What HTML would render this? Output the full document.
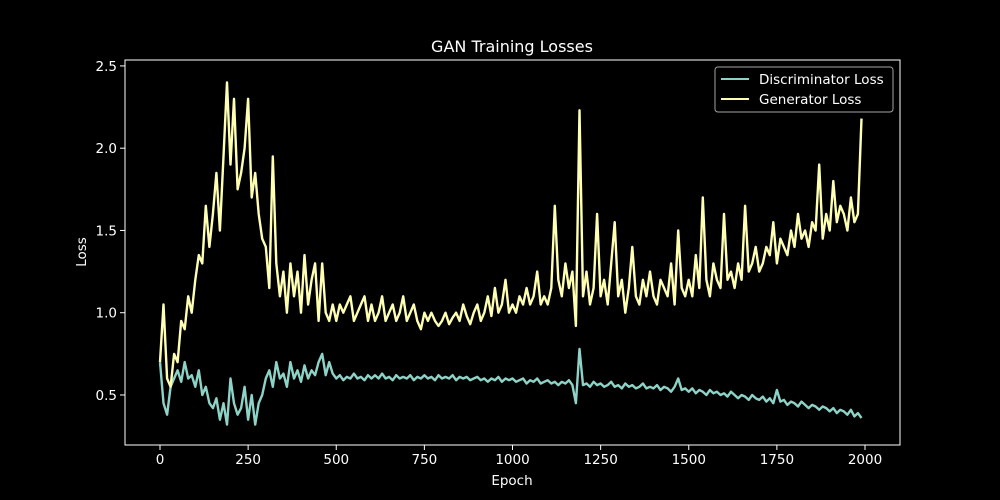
<!DOCTYPE html>
<html><head><meta charset="utf-8"><style>
body{margin:0;background:#000;}
svg{display:block;font-family:"DejaVu Sans","Liberation Sans",sans-serif;}
</style></head><body>
<svg id="chart" width="1000" height="500">
<rect width="1000" height="500" fill="#000"/>
<text x="512" y="52" fill="#fff" font-size="16" text-anchor="middle">GAN Training Losses</text>
<g id="plot"></g>
<text x="512" y="485" fill="#fff" font-size="13.5" text-anchor="middle">Epoch</text>
<text x="86" y="252" fill="#fff" font-size="13.5" text-anchor="middle" transform="rotate(-90 86 252)">Loss</text>
<g>
<rect x="715" y="67" width="178" height="45" rx="3" fill="#000" stroke="#ccc" stroke-opacity="0.8"/>
<line x1="721" y1="79" x2="749" y2="79" stroke="#8dd3c7" stroke-width="2"/>
<text x="759" y="84" fill="#fff" font-size="13.5">Discriminator Loss</text>
<line x1="721" y1="99" x2="749" y2="99" stroke="#feffb3" stroke-width="2"/>
<text x="759" y="104" fill="#fff" font-size="13.5">Generator Loss</text>
</g>
</svg>
<script>
const epochStep = 10;
const genLoss = [
0.7,1.05,0.6,0.55,0.75,0.7,0.95,0.9,1.1,1.0,
1.2,1.35,1.3,1.65,1.4,1.6,1.85,1.5,1.95,2.4,
1.9,2.3,1.75,1.85,2.0,2.3,1.7,1.85,1.6,1.45,
1.4,1.15,1.95,1.3,1.1,1.25,1.0,1.3,1.1,1.25,
1.0,1.35,1.05,1.2,1.3,0.95,1.3,1.0,0.95,1.05,
0.95,1.05,1.0,1.05,1.1,0.95,1.0,1.05,1.1,0.95,
1.05,0.95,1.0,1.1,0.95,1.0,1.05,0.95,1.0,1.1,
0.95,1.0,1.05,0.95,0.9,1.0,0.95,1.0,0.95,0.92,
0.95,1.0,0.93,0.97,1.0,0.95,1.05,0.98,0.93,1.0,
1.05,0.95,1.0,1.1,0.98,1.15,1.0,1.05,1.2,1.0,
1.05,1.0,1.1,1.05,1.15,1.05,1.1,1.25,1.05,1.1,
1.05,1.15,1.65,1.2,1.1,1.3,1.15,1.25,0.92,2.23,
1.1,1.25,1.05,1.15,1.6,1.1,1.2,1.05,1.3,1.55,
1.1,1.2,1.0,1.15,1.4,1.1,1.05,1.2,1.1,1.25,
1.1,1.05,1.2,1.15,1.1,1.3,1.05,1.5,1.15,1.1,
1.2,1.1,1.35,1.15,1.7,1.2,1.1,1.3,1.2,1.15,
1.6,1.2,1.25,1.15,1.3,1.2,1.65,1.25,1.3,1.4,
1.25,1.3,1.4,1.35,1.55,1.3,1.45,1.4,1.35,1.5,
1.4,1.6,1.45,1.5,1.4,1.55,1.5,1.9,1.45,1.6,
1.5,1.8,1.55,1.65,1.6,1.5,1.7,1.55,1.6,2.18];
const discLoss = [
0.7,0.45,0.38,0.55,0.6,0.65,0.58,0.7,0.6,0.62,
0.55,0.65,0.5,0.55,0.45,0.42,0.48,0.35,0.45,0.32,
0.6,0.45,0.38,0.42,0.55,0.35,0.5,0.32,0.45,0.5,
0.6,0.65,0.55,0.7,0.6,0.63,0.55,0.7,0.6,0.65,
0.58,0.68,0.6,0.65,0.62,0.7,0.75,0.62,0.7,0.63,
0.6,0.62,0.59,0.61,0.6,0.63,0.6,0.61,0.59,0.62,
0.6,0.62,0.6,0.63,0.6,0.61,0.59,0.62,0.6,0.61,
0.6,0.62,0.59,0.61,0.6,0.62,0.6,0.61,0.59,0.62,
0.6,0.61,0.6,0.62,0.59,0.61,0.6,0.61,0.59,0.6,
0.61,0.59,0.6,0.58,0.6,0.59,0.61,0.58,0.6,0.59,
0.6,0.58,0.59,0.6,0.57,0.59,0.58,0.6,0.57,0.58,
0.59,0.57,0.58,0.56,0.58,0.57,0.59,0.56,0.45,0.78,
0.56,0.57,0.55,0.58,0.56,0.57,0.55,0.56,0.58,0.55,
0.56,0.54,0.57,0.55,0.56,0.54,0.55,0.57,0.54,0.55,
0.54,0.56,0.53,0.55,0.54,0.52,0.55,0.6,0.53,0.54,
0.52,0.54,0.51,0.53,0.52,0.5,0.53,0.51,0.52,0.5,
0.51,0.49,0.52,0.5,0.48,0.5,0.49,0.47,0.5,0.48,
0.47,0.49,0.46,0.48,0.45,0.53,0.46,0.47,0.44,0.46,
0.45,0.43,0.46,0.44,0.42,0.44,0.43,0.41,0.43,0.42,
0.4,0.42,0.39,0.41,0.4,0.38,0.41,0.37,0.39,0.36];
const xTicks = [0,250,500,750,1000,1250,1500,1750,2000];
const yTicks = [0.5,1.0,1.5,2.0,2.5];
const yTickLabels = ["0.5","1.0","1.5","2.0","2.5"];

const NS="http://www.w3.org/2000/svg";
const L=125,R=900,T=60,B=445;
const xMin=-99.3,xMax=2099.3,yMin=0.196,yMax=2.536;
function sx(v){return L+(v-xMin)/(xMax-xMin)*(R-L);}
function sy(v){return B-(v-yMin)/(yMax-yMin)*(B-T);}
const g=document.getElementById('plot');
function mk(tag,attrs){const e=document.createElementNS(NS,tag);for(const k in attrs)e.setAttribute(k,attrs[k]);g.appendChild(e);return e;}
function series(arr,color,name,w){
  let d='';arr.forEach((v,i)=>{d+=(i?'L':'M')+sx(i*epochStep).toFixed(1)+','+sy(v).toFixed(1);});
  const p=mk('path',{d:d,fill:'none',stroke:color,'stroke-width':w,'stroke-linejoin':'round'});
  
  
}
series(discLoss,'#8dd3c7','discriminator-loss-line',2.4);
series(genLoss,'#feffb3','generator-loss-line',2.4);
const frame=mk('rect',{x:L,y:T,width:R-L,height:B-T,fill:'none',stroke:'#fff','stroke-width':1});


xTicks.forEach(t=>{
  const x=sx(t);
  const tk=mk('line',{x1:x,y1:B,x2:x,y2:B+5,stroke:'#fff'});
  
  
  const tx=mk('text',{x:x,y:B+19,fill:'#fff','font-size':13.5,'text-anchor':'middle'});
  tx.textContent=t;
  
  
});
yTicks.forEach((t,i)=>{
  const y=sy(t);
  const tk=mk('line',{x1:L-5,y1:y,x2:L,y2:y,stroke:'#fff'});
  
  
  const tx=mk('text',{x:L-8,y:y+5,fill:'#fff','font-size':13.5,'text-anchor':'end'});
  tx.textContent=yTickLabels[i];
  
  
});
</script>
</body></html>
